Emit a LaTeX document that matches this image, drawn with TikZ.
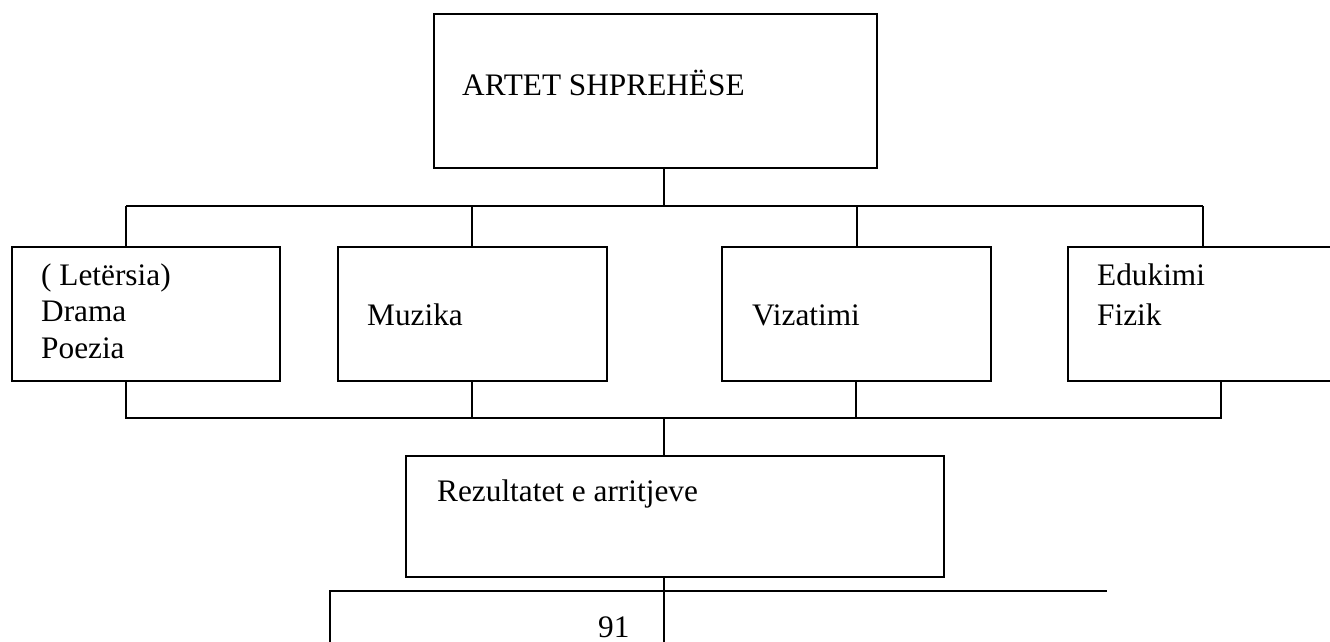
\documentclass[tikz,border=0pt]{standalone}
\usepackage{fontspec}
\setmainfont{Liberation Serif}
\begin{document}
\begin{tikzpicture}[x=1pt,y=-1pt,
  box/.style={draw, line width=1.6pt, inner sep=0pt, rectangle},
  wire/.style={line width=1.3pt},
  txt/.style={inner sep=0pt, anchor=base west, font=\fontsize{31.3}{38}\selectfont}]
\useasboundingbox (0,0) rectangle (1330,642);
\clip (0,0) rectangle (1330,642);
% boxes
\node[box, minimum width=443pt, minimum height=154pt] (top) at (655.5,91) {};
\node[box, minimum width=268pt, minimum height=134pt] (b1) at (146,314) {};
\node[box, minimum width=269pt, minimum height=134pt] (b2) at (472.5,314) {};
\node[box, minimum width=269pt, minimum height=134pt] (b3) at (856.5,314) {};
\node[box, minimum width=272pt, minimum height=134pt] (b4) at (1204,314) {};
\node[box, minimum width=538pt, minimum height=121pt] (rez) at (675,516.5) {};
% texts
\node[txt] (ttop) at (462,95) {ARTET SHPREHËSE};
\node[txt] (t1a) at (41,285) {( Letërsia)};
\node[txt] (t1b) at (41,321.5) {Drama};
\node[txt] (t1c) at (41,358) {Poezia};
\node[txt] (t2) at (367,325) {Muzika};
\node[txt] (t3) at (752,325) {Vizatimi};
\node[txt] (t4a) at (1097,285) {Edukimi};
\node[txt] (t4b) at (1097,325) {Fizik};
\node[txt] (trez) at (437,501) {Rezultatet e arritjeve};
\node[txt] (tpg) at (598,637) {91};
% bus coordinates
\coordinate (tc) at (664,206);
\coordinate (tl) at (126,206);
\coordinate (tr) at (1203,206);
\coordinate (u2) at (472,206);
\coordinate (u3) at (857,206);
\coordinate (bl) at (126,418);
\coordinate (br) at (1221,418);
\coordinate (bc) at (664,418);
\coordinate (l2) at (472,418);
\coordinate (l3) at (856,418);
\coordinate (pl) at (330,591);
\coordinate (pr) at (1107,591);
\coordinate (pend) at (664,642);
\coordinate (plend) at (330,642);
% top connectors
\draw[wire] (top.south -| tc) -- (tc);
\draw[wire] (tl) -- (tr);
\draw[wire] (tl) -- (b1.north -| tl);
\draw[wire] (u2) -- (b2.north -| u2);
\draw[wire] (u3) -- (b3.north -| u3);
\draw[wire] (tr) -- (b4.north -| tr);
% bottom connectors
\draw[wire] (b1.south -| bl) -- (bl) -- (br) -- (b4.south -| br);
\draw[wire] (b2.south -| l2) -- (l2);
\draw[wire] (b3.south -| l3) -- (l3);
\draw[wire] (bc) -- (rez.north -| bc);
\draw[wire] (rez.south -| bc) -- (pend);
\draw[line width=1.8pt] (plend) -- (pl) -- (pr);
\end{tikzpicture}
\end{document}
